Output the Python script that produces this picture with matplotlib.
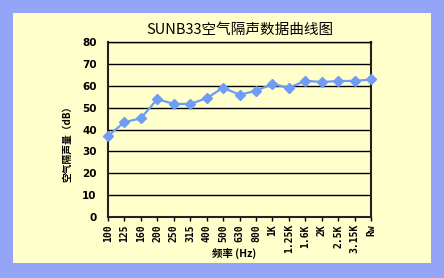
import matplotlib.pyplot as plt
from matplotlib.patches import Rectangle

# 频率点与隔声量数据
freqs = ['100', '125', '160', '200', '250', '315', '400', '500', '630', '800',
         '1K', '1.25K', '1.6K', '2K', '2.5K', '3.15K', 'Rw']
values = [37.0, 43.4, 45.1, 53.9, 51.7, 51.7, 54.3, 59.1, 55.9, 57.7,
          60.8, 59.0, 62.3, 61.7, 62.2, 62.2, 62.9]
yticks = [0, 10, 20, 30, 40, 50, 60, 70, 80]

plt.rcParams['font.family'] = ['Noto Sans CJK SC', 'DejaVu Sans']

fig = plt.figure(figsize=(4.44, 2.78), dpi=100)
fig.patch.set_facecolor('#94a5f8')
fig.patches.append(Rectangle((0.029, 0.054), 0.942, 0.899, transform=fig.transFigure,
                             facecolor='#ffffcc', edgecolor='none', zorder=-10))

ax = fig.add_axes([0.243, 0.219, 0.593, 0.630])
ax.set_zorder(1)
ax.set_facecolor('#ffffcc')

x = list(range(len(freqs)))
ax.plot(x, values, color='#6e9cf6', linewidth=1.6, marker='D', markersize=5,
        markeredgecolor='#6e9cf6', zorder=3, clip_on=False)

ax.set_xlim(0, len(freqs) - 1)
ax.set_ylim(0, 80)
ax.set_yticks(yticks)
ax.yaxis.grid(True, color='black', linewidth=1.0)
ax.set_axisbelow(True)

ax.set_xticks(x)
ax.set_xticklabels(freqs, rotation=90, fontsize=7, fontweight='bold',
                   family='DejaVu Sans Mono')
for lab in ax.get_yticklabels():
    lab.set_fontweight('bold')
    lab.set_fontsize(7.5)
    lab.set_family('DejaVu Sans')
ax.tick_params(axis='x', length=3, width=1, pad=2, color='black')
ax.tick_params(axis='y', length=0, pad=8)

for side in ['left', 'right', 'bottom']:
    ax.spines[side].set_linewidth(1.5)
    ax.spines[side].set_color('#222222')
ax.spines['top'].set_linewidth(1.0)

ax.set_title('SUNB33空气隔声数据曲线图', fontsize=10.5, pad=6)
ax.set_xlabel('频率 (Hz)', fontsize=7.5, fontweight='bold')
ax.xaxis.set_label_coords(0.48, -0.175)
ax.set_ylabel('空气隔声量（dB）', fontsize=7, fontweight='bold')
ax.yaxis.set_label_coords(-0.135, 0.43)

fig.savefig('out.png', dpi=100, facecolor=fig.get_facecolor())
